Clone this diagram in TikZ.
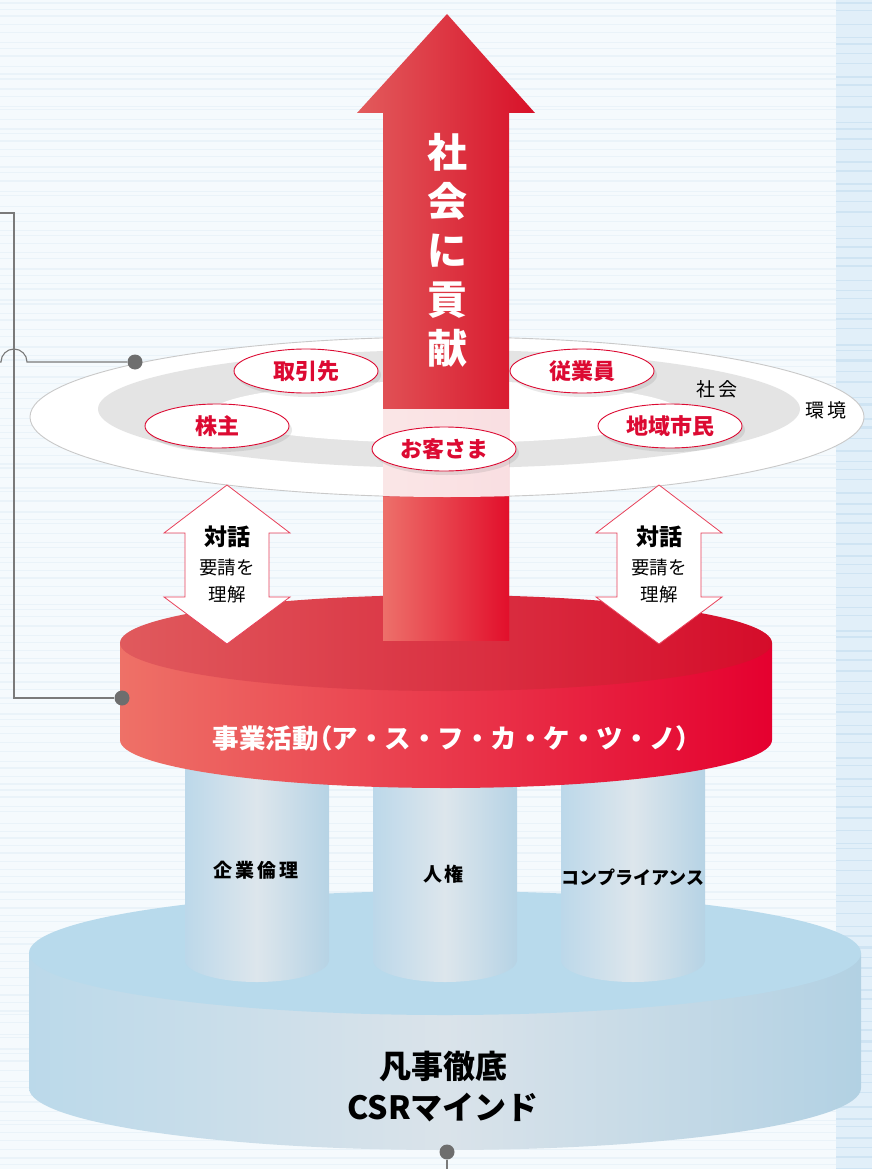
\documentclass[tikz,border=0pt]{standalone}
\usepackage{fontspec}
\newfontfamily\jp{Noto Sans CJK JP}
\newfontfamily\jpp[RawFeature=+palt]{Noto Sans CJK JP}
\usetikzlibrary{shapes.geometric,shadows}
\definecolor{bg}{HTML}{F5FAFD}
\definecolor{bgline}{HTML}{EAF3F9}
\definecolor{strip}{HTML}{E1EFF9}
\definecolor{stripline}{HTML}{CFE4F3}
\definecolor{conngray}{HTML}{7A7A7A}
\definecolor{dotgray}{HTML}{6E6E6E}
\definecolor{envborder}{HTML}{C9C9C9}
\definecolor{ring}{HTML}{E4E4E4}
\definecolor{bred}{HTML}{DC0A32}
\definecolor{arrL}{HTML}{E25B5C}
\definecolor{arrR}{HTML}{D81129}
\definecolor{arrlL}{HTML}{ED706A}
\definecolor{arrlR}{HTML}{E20F2B}
\definecolor{dtopL}{HTML}{E05A5D}
\definecolor{dtopR}{HTML}{D50C2A}
\definecolor{dsideL}{HTML}{EE7167}
\definecolor{dsideR}{HTML}{E5002F}
\definecolor{pilL}{HTML}{BCD8EA}
\definecolor{pilM}{HTML}{DDE6EC}
\definecolor{pilR}{HTML}{B6D3E5}
\definecolor{basetop}{HTML}{B8DAEC}
\definecolor{bsideL}{HTML}{BBD9EA}
\definecolor{bsideM}{HTML}{DAE3EA}
\definecolor{bsideR}{HTML}{B2D1E3}
\definecolor{dblred}{HTML}{E8415A}
\begin{document}
\begin{tikzpicture}[x=1pt,y=-1pt,
  conn/.style={draw=conngray,line width=1.1pt},
  dotnode/.style={circle,fill=dotgray,minimum size=15pt,inner sep=0pt},
  bubble/.style={ellipse,draw=bred,line width=0.9pt,fill=white,minimum width=144pt,minimum height=44pt,inner sep=0pt,
    font=\jp\bfseries\fontsize{22}{22}\selectfont,text=bred,
    drop shadow={opacity=.18,shadow xshift=3pt,shadow yshift=-4pt}},
  dblarrow/.style={draw=dblred,line width=0.8pt,fill=white},
  dlgtitle/.style={font=\jp\bfseries\fontsize{23}{23}\selectfont,text=black},
  dlgtext/.style={font=\jp\fontsize{18.5}{18.5}\selectfont,text=black},
  pillarlabel/.style={font=\jp\bfseries\fontsize{19}{19}\selectfont,text=black},
  ringlabel/.style={font=\jp\fontsize{19}{19}\selectfont,text=black},
]
\useasboundingbox (0,0) rectangle (872,1169);
% background
\fill[bg] (0,0) rectangle (872,1169);
\pgfmathsetseed{11}
\foreach \i in {0,...,150}{
  \pgfmathsetmacro\yy{\i*7.8+rnd*5}
  \pgfmathsetmacro\ww{0.6+rnd*1.4}
  \draw[bgline,line width=\ww pt] (0,\yy) -- (836,\yy);
}
\fill[strip] (836,0) rectangle (872,1169);
\foreach \i in {0,...,110}{
  \pgfmathsetmacro\yy{\i*10.6+rnd*6}
  \pgfmathsetmacro\ww{0.6+rnd*1.8}
  \draw[stripline,line width=\ww pt] (836,\yy) -- (872,\yy);
}
% base cylinder
\path[left color=bsideL,right color=bsideR,middle color=bsideM]
  (29,953) -- (29,1088) arc[start angle=180,end angle=0,x radius=416,y radius=62] -- (861,953) -- cycle;
\fill[basetop] (445,953) ellipse[x radius=416,y radius=62];
\node[font=\jp\bfseries\fontsize{32}{32}\selectfont] (bon) at (443,1066) {凡事徹底};
\node[font=\jp\bfseries\fontsize{32}{32}\selectfont] (csr) at (443,1108) {CSRマインド};
% pillars
\foreach \cx in {257,445,633}{
  \path[left color=pilL,right color=pilR,middle color=pilM]
    (\cx-72,740) -- (\cx-72,960) arc[start angle=180,end angle=0,x radius=72,y radius=22] -- (\cx+72,740) -- cycle;
}
\node[pillarlabel] (p1) at (256,870) {企\hspace{3pt}業\hspace{3pt}倫\hspace{3pt}理};
\node[pillarlabel] (p2) at (443,874) {人\hspace{2pt}権};
\node[pillarlabel,font=\jp\bfseries\fontsize{18}{18}\selectfont] (p3) at (633,877) {コンプライアンス};
% red disk
\path[left color=dsideL,right color=dsideR]
  (120,643) -- (120,740) arc[start angle=180,end angle=0,x radius=326,y radius=48] -- (772,643) -- cycle;
\path[left color=dtopL,right color=dtopR] (446,643) ellipse[x radius=326,y radius=48];
\node[font=\jp\bfseries\fontsize{26.5}{26.5}\selectfont,text=white] (biz) at (451,738)
  {事業活動{\jpp（}ア・ス・フ・カ・ケ・ツ・ノ{\jpp）}};
% environment ellipses
\draw[envborder,line width=0.9pt,fill=white] (447,417) ellipse[x radius=417,y radius=80];
\fill[ring] (449,409) ellipse[x radius=351,y radius=59];
\fill[white] (446,412) ellipse[x radius=234,y radius=31];
% big arrow
\path[left color=arrL,right color=arrR]
  (447,14) -- (535,113) -- (509,113) -- (509,640) -- (383,640) -- (383,113) -- (357,113) -- cycle;
\path[left color=arrlL,right color=arrlR] (383,497) rectangle (509,640);
\begin{scope}
  \clip (447,417) ellipse[x radius=417,y radius=80];
  \fill[white,opacity=.86] (383,409) rectangle (509,500);
\end{scope}
\node[font=\jp\bfseries\fontsize{40}{49}\selectfont,text=white,align=center] (contrib) at (447,250) {社\\会\\に\\貢\\献};
% ring labels
\node[ringlabel] (soc) at (717,389) {社\hspace{3pt}会};
\node[ringlabel] (env) at (826,410) {環\hspace{3pt}境};
% bubbles
\node[bubble] (b1) at (306,371) {取引先};
\node[bubble] (b2) at (582,371) {従業員};
\node[bubble] (b3) at (217,426) {株主};
\node[bubble] (b4) at (444,449) {お客さま};
\node[bubble] (b5) at (670,426) {地域市民};
% dialogue double arrows
\draw[dblarrow] (227,485) -- (290,533) -- (269,533) -- (269,597) -- (290,597) -- (227,644)
  -- (164,597) -- (185,597) -- (185,533) -- (164,533) -- cycle;
\draw[dblarrow] (659,485) -- (722,533) -- (701,533) -- (701,597) -- (722,597) -- (659,644)
  -- (596,597) -- (617,597) -- (617,533) -- (596,533) -- cycle;
\node[dlgtitle] (l1) at (227,537) {対話};
\node[dlgtext] (l2) at (227,567) {要請を};
\node[dlgtext] (l3) at (227,594) {理解};
\node[dlgtitle] (r1) at (659,537) {対話};
\node[dlgtext] (r2) at (659,567) {要請を};
\node[dlgtext] (r3) at (659,594) {理解};
% connectors
\node[dotnode] (d1) at (135,362) {};
\node[dotnode] (d2) at (122,698) {};
\node[dotnode] (d3) at (447,1152) {};
\coordinate (c0) at (0,213);
\coordinate (c1) at (14,213);
\coordinate (c2) at (14,698);
\coordinate (h1) at (27,362);
\coordinate (h0) at (0,362);
\coordinate (c3) at (447,1169);
\draw[conn] (c0) -- (c1) -- (c2) -- (d2);
\draw[conn] (d1) -- (h1) arc[start angle=0,end angle=-180,radius=13] -- (h0);
\draw[conn] (d3) -- (c3);
\end{tikzpicture}
\end{document}
